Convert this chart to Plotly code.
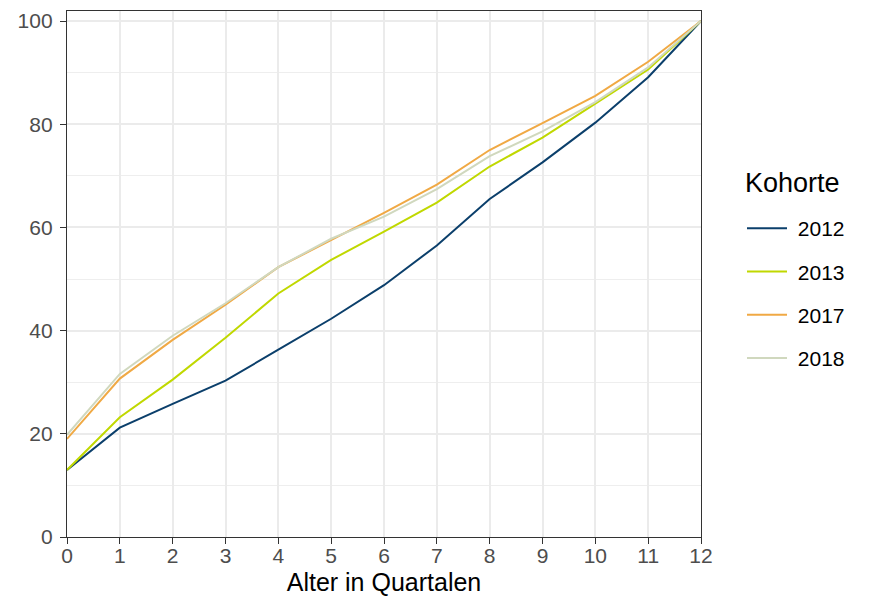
import plotly.graph_objects as go

quarters = list(range(13))
cohorts = ["2012", "2013", "2017", "2018"]
v2012 = [13.0, 21.2, 25.8, 30.3, 36.3, 42.3, 48.8, 56.5, 65.5, 72.6, 80.3, 89.1, 100]
v2013 = [13.0, 23.2, 30.5, 38.6, 47.2, 53.7, 59.2, 64.8, 71.8, 77.4, 84.0, 90.6, 100]
v2017 = [19.0, 30.7, 38.2, 45.0, 52.3, 57.6, 62.8, 68.3, 75.0, 80.2, 85.5, 92.1, 100]
v2018 = [19.8, 31.6, 39.0, 45.3, 52.3, 57.8, 62.1, 67.4, 73.8, 78.6, 84.3, 91.0, 100]
series = [v2012, v2013, v2017, v2018]
colors = ["#0B3F6B", "#C0D800", "#F0A944", "#D0D8BE"]
legend_title = "Kohorte"

FONT = "Liberation Sans, Arial, sans-serif"

# page body has an 8px default margin; plot area target (screen px): x 67..701, y 11..537
OFF = 8
PL, PR, PT, PB = 67, 701, 11, 537

fig = go.Figure()
for name, vals, col in zip(cohorts, series, colors):
    fig.add_trace(go.Scatter(x=quarters, y=vals, mode="lines", name="\u00a0" + name,
                             legendgroup=name,
                             line=dict(color=col, width=2)))

axis_common = dict(
    showline=True, linecolor="#333333", linewidth=1.3, mirror=True,
    ticks="outside", ticklen=6, tickcolor="#333333", tickwidth=1.2,
    gridcolor="#EBEBEB", gridwidth=2, zeroline=False, automargin=False,
    tickfont=dict(family=FONT, size=21, color="#4D4D4D"),
)

fig.update_xaxes(range=[0, 12], tickmode="array", tickvals=quarters,
                 ticktext=[str(q) for q in quarters],
                 ticklabelstandoff=-6,
                 title=dict(text="Alter in Quartalen", standoff=7,
                            font=dict(family=FONT, size=25, color="#000000")),
                 **axis_common)
fig.update_yaxes(range=[0, 101.94], tickmode="array", tickvals=[0, 20, 40, 60, 80, 100],
                 ticklabelstandoff=3,
                 minor=dict(tickvals=[10, 30, 50, 70, 90], showgrid=True, gridcolor="#EEEEEE",
                            gridwidth=1.2, ticks=""),
                 **axis_common)

fig.add_annotation(text=legend_title, xref="paper", yref="paper",
                   x=(743 - PL) / (PR - PL), y=(PB - 183) / (PB - PT),
                   xanchor="left", yanchor="middle", showarrow=False,
                   font=dict(family=FONT, size=27, color="#000000"))

fig.update_layout(
    width=869 - OFF, height=600 - OFF,
    margin=dict(l=PL - OFF, r=869 - PR, t=PT - OFF, b=600 - PB),
    plot_bgcolor="white", paper_bgcolor="white",
    font=dict(family=FONT),
    showlegend=True,
    legend=dict(
        x=(742 - PL) / (PR - PL), xanchor="left", xref="paper",
        y=(PB - 208) / (PB - PT), yanchor="top",
        font=dict(family=FONT, size=21, color="#000000"),
        tracegroupgap=13, traceorder="grouped",
        itemwidth=40, bgcolor="rgba(0,0,0,0)",
    ),
)

fig.write_html("out.html")
